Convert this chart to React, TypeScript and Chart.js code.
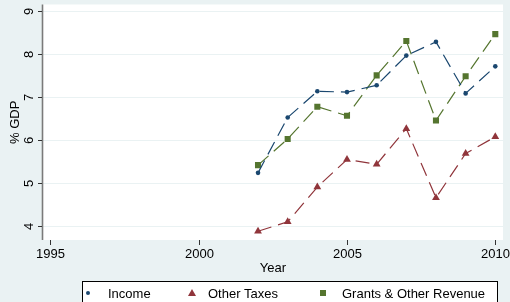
import React, { useEffect, useRef } from "react";
import { Chart, registerables } from "chart.js";

Chart.register(...registerables);

const years = [2002, 2003, 2004, 2005, 2006, 2007, 2008, 2009, 2010];
const income = [5.24, 6.53, 7.14, 7.12, 7.28, 7.97, 8.29, 7.09, 7.72];
const otherTaxes = [3.88, 4.1, 4.91, 5.55, 5.44, 6.27, 4.66, 5.69, 6.08];
const grants = [5.42, 6.03, 6.78, 6.57, 7.51, 8.31, 6.46, 7.49, 8.47];
const xTicks = [1995, 2000, 2005, 2010];
const yTicks = [4, 5, 6, 7, 8, 9];
const seriesNames = ["Income", "Other Taxes", "Grants & Other Revenue"];
const xTitle = "Year";
const yTitle = "% GDP";

const NAVY = "#1a476f";
const MAROON = "#90353b";
const GREEN = "#55752f";
const BG = "#eaf2f3";
const FONT = "13px 'Liberation Sans', Arial, sans-serif";

const decorPlugin = {
  id: "decor",
  beforeDraw(chart: any) {
    const { ctx, chartArea, width, height } = chart;
    ctx.save();
    ctx.fillStyle = BG;
    ctx.fillRect(0, 0, width, height);
    ctx.fillStyle = "#ffffff";
    ctx.fillRect(chartArea.left, chartArea.top, chartArea.right - chartArea.left, chartArea.bottom - chartArea.top);
    ctx.restore();
  },
  beforeDatasetsDraw(chart: any) {
    const { ctx, chartArea } = chart;
    const ys = chart.scales.y;
    ctx.save();
    ctx.strokeStyle = BG;
    ctx.lineWidth = 1.2;
    for (const t of yTicks) {
      const py = Math.round(ys.getPixelForValue(t)) + 0.5;
      ctx.beginPath();
      ctx.moveTo(chartArea.left, py);
      ctx.lineTo(chartArea.right, py);
      ctx.stroke();
    }
    ctx.restore();
  },
  afterDraw(chart: any) {
    const { ctx, chartArea } = chart;
    const xs = chart.scales.x;
    const ys = chart.scales.y;
    ctx.save();
    // y axis line
    ctx.strokeStyle = "#7a7a7a";
    ctx.lineWidth = 1.6;
    ctx.beginPath();
    ctx.moveTo(chartArea.left - 0.5, chartArea.top);
    ctx.lineTo(chartArea.left - 0.5, chartArea.bottom);
    ctx.stroke();
    ctx.lineWidth = 1;
    ctx.strokeStyle = "#333";
    ctx.fillStyle = "#000";
    ctx.font = FONT;
    // y ticks
    for (const t of yTicks) {
      const py = Math.round(ys.getPixelForValue(t)) + 0.5;
      ctx.beginPath();
      ctx.moveTo(chartArea.left - 5, py);
      ctx.lineTo(chartArea.left - 1, py);
      ctx.stroke();
      ctx.save();
      ctx.translate(33.2, py);
      ctx.rotate(-Math.PI / 2);
      ctx.textAlign = "center";
      ctx.textBaseline = "alphabetic";
      ctx.fillText(String(t), 0, 0);
      ctx.restore();
    }
    // y title
    ctx.save();
    ctx.translate(18.5, (chartArea.top + chartArea.bottom) / 2);
    ctx.rotate(-Math.PI / 2);
    ctx.textAlign = "center";
    ctx.textBaseline = "alphabetic";
    ctx.fillText(yTitle, 0, 0);
    ctx.restore();
    // x ticks
    for (const t of xTicks) {
      const px = Math.round(xs.getPixelForValue(t)) + 0.5;
      ctx.beginPath();
      ctx.moveTo(px, chartArea.bottom);
      ctx.lineTo(px, chartArea.bottom + 5);
      ctx.stroke();
      ctx.textAlign = "center";
      ctx.textBaseline = "alphabetic";
      ctx.fillText(String(t), px, 257.5);
    }
    ctx.textAlign = "center";
    ctx.fillText(xTitle, (chartArea.left + chartArea.right) / 2, 272);
    // legend
    ctx.fillStyle = "#ffffff";
    ctx.fillRect(82.5, 281.5, 415, 40);
    ctx.strokeStyle = "#000";
    ctx.lineWidth = 1;
    ctx.strokeRect(82.5, 281.5, 415, 40);
    const ly = 293;
    // income dot
    ctx.fillStyle = NAVY;
    ctx.beginPath();
    ctx.arc(88, ly, 2, 0, Math.PI * 2);
    ctx.fill();
    // triangle
    ctx.fillStyle = MAROON;
    ctx.beginPath();
    ctx.moveTo(192, ly - 4);
    ctx.lineTo(196, ly + 3);
    ctx.lineTo(188, ly + 3);
    ctx.closePath();
    ctx.fill();
    // square
    ctx.fillStyle = GREEN;
    ctx.fillRect(320, ly - 3, 6, 6);
    ctx.fillStyle = "#000";
    ctx.textAlign = "left";
    ctx.fillText(seriesNames[0], 108, 297.5);
    ctx.fillText(seriesNames[1], 208, 297.5);
    ctx.fillText(seriesNames[2], 342, 297.5);
    ctx.restore();
  },
};

export default function App() {
  const ref = useRef<HTMLCanvasElement | null>(null);
  useEffect(() => {
    document.body.style.margin = "0";
    const mk = (arr: number[]) => years.map((x, i) => ({ x, y: arr[i] }));
    const chart = new Chart(ref.current as HTMLCanvasElement, {
      type: "line",
      data: {
        datasets: [
          {
            label: seriesNames[0],
            data: mk(income),
            borderColor: NAVY,
            backgroundColor: NAVY,
            borderWidth: 1.2,
            borderDash: [14, 7],
            pointStyle: "circle",
            pointRadius: 2.3,
            pointBorderWidth: 0,
            tension: 0,
          },
          {
            label: seriesNames[1],
            data: mk(otherTaxes),
            borderColor: MAROON,
            backgroundColor: MAROON,
            borderWidth: 1.2,
            borderDash: [14, 7],
            pointStyle: "triangle",
            pointRadius: 4.5,
            pointBorderWidth: 0,
            tension: 0,
          },
          {
            label: seriesNames[2],
            data: mk(grants),
            borderColor: GREEN,
            backgroundColor: GREEN,
            borderWidth: 1.2,
            borderDash: [14, 7],
            pointStyle: "rect",
            pointRadius: 4.3,
            pointBorderWidth: 0,
            tension: 0,
          },
        ],
      },
      options: {
        animation: false,
        responsive: false,
        maintainAspectRatio: false,
        devicePixelRatio: 1,
        layout: { padding: { left: 43, right: 7, top: 3, bottom: 62 } },
        plugins: { legend: { display: false }, tooltip: { enabled: false } },
        scales: {
          x: { type: "linear", display: false, min: 1994.75, max: 2010.26 },
          y: { type: "linear", display: false, min: 3.677, max: 9.16 },
        },
      } as any,
      plugins: [decorPlugin],
    });
    return () => chart.destroy();
  }, []);
  return (
    <div style={{ position: "fixed", left: 0, top: 0, width: 510, height: 302 }}>
      <canvas ref={ref} width={510} height={302} style={{ width: 510, height: 302 }} />
    </div>
  );
}
